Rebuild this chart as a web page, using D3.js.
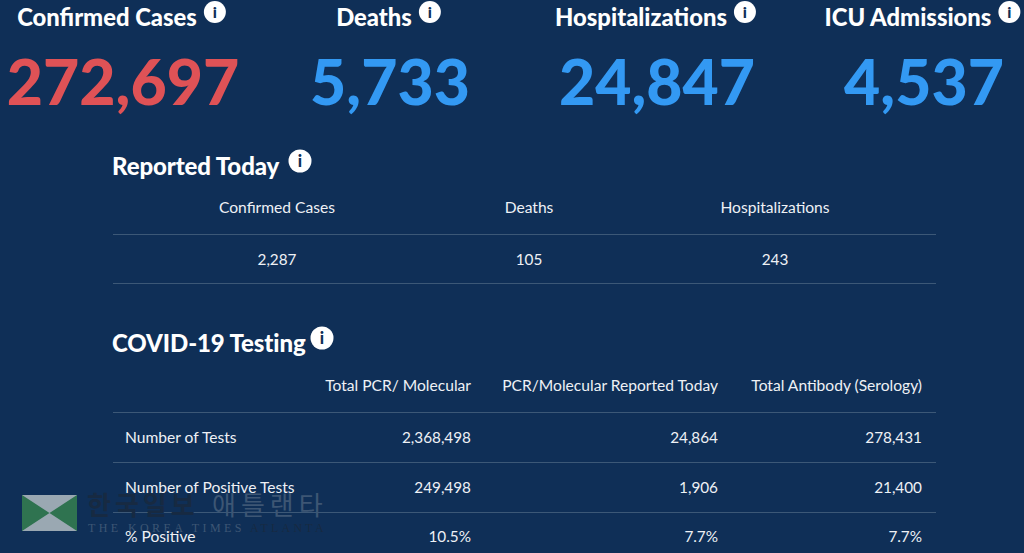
<!DOCTYPE html>
<html>
<head>
<meta charset="utf-8">
<style>
  html, body { margin: 0; padding: 0; background: #0f2f57; overflow: hidden; }
  svg { display: block; font-family: Lato, sans-serif; }
</style>
</head>
<body>
<svg width="1024" height="553"></svg>
<script src="https://d3js.org/d3.v7.min.js"></script>
<script>
var headlineLabels = ["Confirmed Cases", "Deaths", "Hospitalizations", "ICU Admissions"];
var headlineValues = [272697, 5733, 24847, 4537];
var headlineColors = ["#df5256", "#3399f3", "#3399f3", "#3399f3"];

var todayLabels = ["Confirmed Cases", "Deaths", "Hospitalizations"];
var todayValues = [2287, 105, 243];

var testingColumns = ["Total PCR/ Molecular", "PCR/Molecular Reported Today", "Total Antibody (Serology)"];
var testingRows = ["Number of Tests", "Number of Positive Tests", "% Positive"];
var totalPcr = ["2,368,498", "249,498", "10.5%"];
var pcrToday = ["24,864", "1,906", "7.7%"];
var totalAntibody = ["278,431", "21,400", "7.7%"];

var svg = d3.select("svg");
var comma = d3.format(",");
var white = "#ffffff", soft = "#eef1f5", rule = "#3c5877";

// info icon next to every heading
function infoIcon(g, x, y, r) {
    g.append("circle").attr("cx", x).attr("cy", y).attr("r", r).attr("fill", white);
    g.append("text").attr("x", x).attr("y", y + r * 0.5).attr("text-anchor", "middle")
        .attr("font-size", r * 1.45).attr("font-weight", 900).attr("fill", "#0f2f57").text("i");
}

// top row
var xHead = d3.scaleBand().domain(headlineLabels).range([-26.5, 1041.5]);
var xNum = d3.scaleOrdinal().domain(headlineLabels).range([123, 390, 657, 924]);
headlineLabels.forEach(function(d, i) {
    var cx = xHead(d) + xHead.bandwidth() / 2;
    var t = svg.append("text").attr("x", cx).attr("y", 26).attr("text-anchor", "middle")
        .attr("font-size", 23.8).attr("font-weight", 900).attr("fill", white).text(d);
    var w = t.node().getComputedTextLength();
    infoIcon(svg, cx + w / 2 + 18, 12, 11);
    svg.append("text").attr("x", xNum(d)).attr("y", 105).attr("text-anchor", "middle")
        .attr("font-size", 62.5).attr("font-weight", 900).attr("fill", headlineColors[i])
        .text(comma(headlineValues[i]));
});

function sectionTitle(label, y, iconX) {
    svg.append("text").attr("x", 112).attr("y", y).attr("font-size", 24).attr("font-weight", 900)
        .attr("letter-spacing", -0.1).attr("fill", white).text(label);
    infoIcon(svg, iconX, y - 14, 11.5);
}

function hline(y) {
    svg.append("line").attr("x1", 113).attr("x2", 936).attr("y1", y).attr("y2", y)
        .attr("stroke", rule).attr("stroke-width", 1);
}

// reported today
sectionTitle("Reported Today", 175, 300);
var xToday = d3.scaleOrdinal().domain(todayLabels).range([277, 529, 775]);
svg.selectAll("text.today-head").data(todayLabels).join("text").attr("class", "today-head")
    .attr("x", function(d) { return xToday(d); }).attr("y", 213).attr("text-anchor", "middle")
    .attr("font-size", 15.6).attr("fill", soft).text(function(d) { return d; });
svg.selectAll("text.today-val").data(todayValues).join("text").attr("class", "today-val")
    .attr("x", function(d, i) { return xToday(todayLabels[i]); }).attr("y", 264.5).attr("text-anchor", "middle")
    .attr("font-size", 15.3).attr("fill", soft).text(function(d) { return comma(d); });
[234.5, 283.5].forEach(hline);

// testing table
sectionTitle("COVID-19 Testing", 352, 322);
var xCol = d3.scaleOrdinal().domain(testingColumns).range([471, 718, 922]);
var yRow = d3.scaleOrdinal().domain(testingRows).range([443, 492.5, 542]);
svg.selectAll("text.col-head").data(testingColumns).join("text").attr("class", "col-head")
    .attr("x", function(d) { return xCol(d); }).attr("y", 391).attr("text-anchor", "end")
    .attr("font-size", 15.6).attr("fill", soft).text(function(d) { return d; });
[412.5, 462.5, 512.5].forEach(hline);

// watermark sits under the table text
var logo = svg.append("g").attr("transform", "translate(22,495)");
logo.append("rect").attr("width", 55).attr("height", 36).attr("fill", "#2f7350");
logo.append("path").attr("d", "M0,0H55L27.5,18ZM0,36H55L27.5,18Z").attr("fill", "#9aa8b2");
svg.append("text").attr("x", 87).attr("y", 515).attr("font-family", "'Noto Sans CJK KR'")
    .attr("font-size", 26).attr("font-weight", 700).attr("letter-spacing", 4).attr("fill", "#172a42").text("한국일보");
svg.append("text").attr("x", 212).attr("y", 515).attr("font-family", "'Noto Sans CJK KR'")
    .attr("font-size", 26).attr("letter-spacing", 5).attr("fill", "#3d5674").text("애틀랜타");
svg.append("text").attr("x", 88).attr("y", 532).attr("font-family", "'Liberation Serif'")
    .attr("font-size", 12).attr("letter-spacing", 3.4).attr("fill", "#3d5674").text("THE KOREA TIMES");
svg.append("text").attr("x", 250).attr("y", 532).attr("font-family", "'Liberation Serif'")
    .attr("font-size", 12).attr("letter-spacing", 3.2).attr("fill", "#172a42").text("ATLANTA");

svg.selectAll("text.row-head").data(testingRows).join("text").attr("class", "row-head")
    .attr("x", 125).attr("y", function(d) { return yRow(d); })
    .attr("font-size", 15.6).attr("fill", soft).text(function(d) { return d; });

[totalPcr, pcrToday, totalAntibody].forEach(function(values, c) {
    svg.selectAll("text.col-" + c).data(values).join("text").attr("class", "col-" + c)
        .attr("x", xCol(testingColumns[c]))
        .attr("y", function(d, i) { return yRow(testingRows[i]); })
        .attr("text-anchor", "end").attr("font-size", 15.3).attr("fill", soft)
        .text(function(d) { return d; });
});
</script>
</body>
</html>
